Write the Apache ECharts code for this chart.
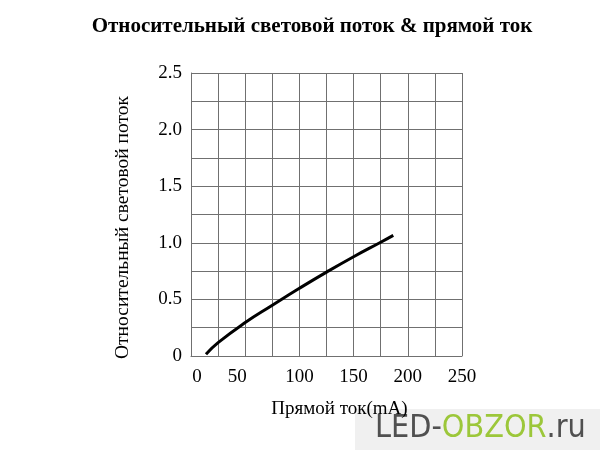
<!DOCTYPE html>
<html>
<head>
<meta charset="utf-8">
<script src="https://cdn.jsdelivr.net/npm/echarts@6/dist/echarts.min.js"></script>
<style>html,body{margin:0;padding:0;background:#fff;}#c{width:600px;height:450px;}</style>
</head>
<body>
<div id="c"></div>
<script>
var titleText = 'Относительный световой поток & прямой ток';
var xName = 'Прямой ток(mA)';
var yName = 'Относительный световой поток';
var currentMA = [13.8, 25, 50, 75, 100, 125, 150, 175, 186.6];
var relFlux =   [0.015, 0.118, 0.295, 0.448, 0.598, 0.741, 0.877, 1.005, 1.066];
var xTickLabels = [0, 50, 100, 150, 200, 250];
var yTickLabels = [0, 0.5, 1.0, 1.5, 2.0, 2.5];

var serif = '"Liberation Serif", "DejaVu Serif", serif';
var gridColor = '#707070';
var chart = echarts.init(document.getElementById('c'));
var pts = currentMA.map(function (x, i) { return [x, relFlux[i]]; });
chart.setOption({
  animation: false,
  backgroundColor: '#fff',
  title: {
    text: titleText,
    left: 307, top: 11, textAlign: 'center',
    textStyle: { fontFamily: serif, fontWeight: 'bold', fontSize: 21, color: '#000' }
  },
  grid: { left: 191, right: 138, top: 73, bottom: 94 },
  xAxis: {
    type: 'value', min: 0, max: 250, interval: 25,
    name: xName, nameLocation: 'middle', nameGap: 44,
    nameTextStyle: { fontFamily: serif, fontSize: 19, color: '#000', padding: [0, 0, 0, 26] },
    axisLine: { show: true, lineStyle: { color: gridColor, width: 1 } },
    axisTick: { show: false },
    axisLabel: {
      margin: 12, fontFamily: serif, fontSize: 19, color: '#000',
      formatter: function (v) {
        if (xTickLabels.indexOf(v) < 0) return '';
        if (v === 0) return '{r|0}';
        if (v === 50) return '{l|50}';
        return String(v);
      },
      rich: {
        r: { fontFamily: serif, fontSize: 19, color: '#000', padding: [0, 0, 0, 12] },
        l: { fontFamily: serif, fontSize: 19, color: '#000', padding: [0, 16, 0, 0] }
      }
    },
    splitLine: { show: true, lineStyle: { color: gridColor, width: 1 } }
  },
  yAxis: {
    type: 'value', min: 0, max: 2.5, interval: 0.25,
    name: yName, nameLocation: 'middle', nameGap: 58, nameRotate: 90,
    nameTextStyle: { fontFamily: serif, fontSize: 19.5, color: '#000', padding: [0, 26, 0, 0] },
    axisLine: { show: true, lineStyle: { color: gridColor, width: 1 } },
    axisTick: { show: false },
    axisLabel: {
      margin: 9, fontFamily: serif, fontSize: 19, color: '#000',
      formatter: function (v) {
        var r = Math.round(v * 100) / 100;
        if (yTickLabels.indexOf(r) < 0) return '';
        return r === 0 ? '0' : r.toFixed(1);
      }
    },
    splitLine: { show: true, lineStyle: { color: gridColor, width: 1 } }
  },
  series: [{
    type: 'line', data: pts, smooth: 0.5, showSymbol: false,
    lineStyle: { color: '#000', width: 3 }
  }],
  graphic: [{
    type: 'group', left: 355, top: 409,
    children: [
      { type: 'rect', shape: { x: 0, y: 0, width: 245, height: 41 }, style: { fill: '#f0f0f0' } },
      { type: 'text', x: 20, y: 20, style: {
          text: '{a|LED-}{b|OBZOR}{a|.ru}', verticalAlign: 'middle',
          rich: {
            a: { fontFamily: '"DejaVu Sans Condensed", "DejaVu Sans", sans-serif', fontSize: 32, fill: '#505050' },
            b: { fontFamily: '"DejaVu Sans Condensed", "DejaVu Sans", sans-serif', fontSize: 32, fill: '#9cc73a' }
          }
      } }
    ]
  }]
});
</script>
</body>
</html>
